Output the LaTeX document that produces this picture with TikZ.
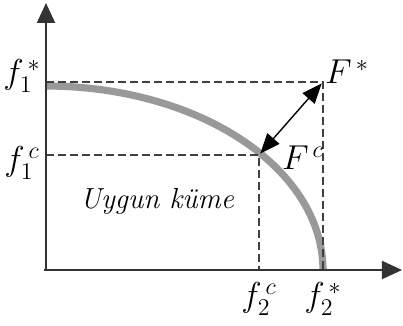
\documentclass[tikz,border=0pt]{standalone}
\usetikzlibrary{arrows.meta,calc}
\begin{document}
\begin{tikzpicture}[x=0.5pt,y=-0.5pt,
  axis/.style={line width=1pt,draw=black!80,-{Triangle[length=10pt,width=9pt]}},
  guide/.style={line width=0.8pt,draw=black!75,dash pattern=on 4pt off 2pt},
  front/.style={line width=3.6pt,draw=black!40},
  dist/.style={line width=0.7pt,{Triangle[length=10pt,width=8pt]}-{Triangle[length=10pt,width=8pt]}},
  lab/.style={font=\LARGE,inner sep=0pt}]
\useasboundingbox (0,0) rectangle (403,326);
\coordinate (O) at (46,270);
\coordinate (ytop) at (46,3);
\coordinate (xend) at (402,270);
\coordinate (Fs) at (323,82);
\coordinate (Fc) at (259,155);
\coordinate (a1) at (46,82);
\coordinate (a2) at (46,155);
\coordinate (b1) at (323,270);
\coordinate (b2) at (259,270);
% Pareto front
\draw[front] plot[smooth,samples=60,domain=0:90] ({46+277*sin(\x)},{270-184*cos(\x)});
% guides
\draw[guide] (a1) -- (Fs) -- (b1);
\draw[guide] (a2) -- (Fc) -- (b2);
% axes
\draw[axis] (O) -- (ytop);
\draw[axis] ([xshift=-1pt]O) -- (xend);
% distance arrow
\draw[dist] ($(Fc)!0.02!(Fs)$) -- ($(Fc)!0.98!(Fs)$);
% labels
\node[lab] (l1) at (22,76) {$f_1^{\,*}$};
\node[lab] (l2) at (22,163) {$f_1^{\,c}$};
\node[lab] (l3) at (259,299) {$f_2^{\,c}$};
\node[lab] (l4) at (323,299) {$f_2^{\,*}$};
\node[lab] (l5) at (347,72) {$F^{\,*}$};
\node[lab] (l6) at (303,158) {$F^{\,c}$};
\node[font=\fontsize{14.5}{17}\selectfont\itshape,inner sep=0pt] (u) at (157,201) {Uygun küme};
\end{tikzpicture}
\end{document}
